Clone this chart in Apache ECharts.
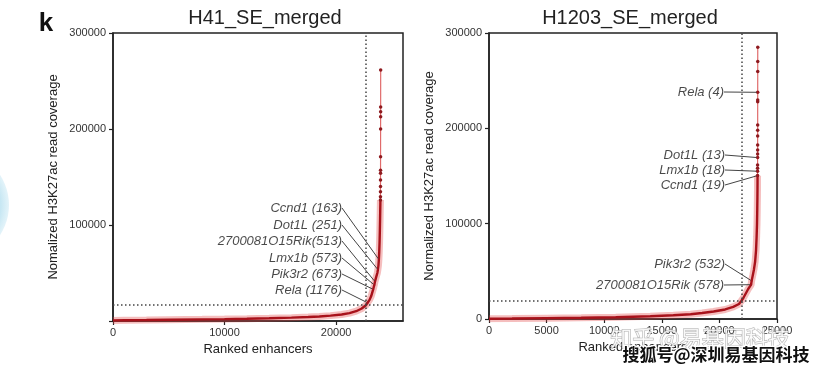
<!DOCTYPE html>
<html>
<head>
<meta charset="utf-8">
<script src="https://cdn.jsdelivr.net/npm/echarts@6/dist/echarts.min.js"></script>
<style>
html,body{margin:0;padding:0;background:#fff;}
#c{width:822px;height:374px;}
</style>
</head>
<body>
<div id="c"></div>
<script>
// ---------- DATA ----------
const panelTitles = ['H41_SE_merged', 'H1203_SE_merged'];
const yAxisNames = ['Nomalized H3K27ac read coverage', 'Normalized H3K27ac read coverage'];
const xAxisName = 'Ranked enhancers';

const leftXTicks = [0, 10000, 20000];
const leftYTicks = [100000, 200000, 300000];
const rightXTicks = [0, 5000, 10000, 15000, 20000, 25000];
const rightYTicks = [0, 100000, 200000, 300000];

// H41: dense part of ranked curve [rank, coverage]
const leftDense = [
  [0,600],[1000,800],[3000,1000],[5000,1300],[8000,1700],[10000,2000],[12000,2400],
  [14000,2900],[16000,3500],[17500,4100],[18500,4700],[19500,5600],[20500,6800],
  [21200,8200],[21800,10200],[22300,13000],[22700,16700],[22824,19000],[23000,22000],
  [23150,26000],[23327,33000],[23427,37500],[23487,41000],[23600,46000],[23700,50000],
  [23749,53500],[23800,58000],[23837,64000],[23870,72000],[23900,82000],[23925,94000],
  [23945,106000],[23960,116000],[23970,122000],[23976,126000]
];
// H41: sparse top enhancers
const leftTop = [
  [23976,126000],[23978,129500],[23980,134700],[23982,140000],[23984,146900],[23986,153800],
  [23987,157000],[23989,171000],[23992,200000],[23994,212800],[23995,218000],
  [23996,223000],[23999,261500]
];
const leftCutoffRank = 22700;
const leftCutoffValue = 16700;
const leftGenes = ['Ccnd1', 'Dot1L', '2700081O15Rik', 'Lmx1b', 'Pik3r2', 'Rela'];
const leftGeneRankLabels = [163, 251, 513, 573, 673, 1176];
const leftGenePoints = [[23837,64000],[23749,53500],[23487,41000],[23427,37500],[23327,33000],[22824,19000]];

// H1203: dense part
const rightDense = [
  [0,300],[2000,500],[5000,900],[8000,1300],[11000,1900],[14000,2900],[16000,3900],
  [17500,5000],[18500,6300],[19500,7900],[20500,10000],[21200,12700],[21700,15700],
  [21900,18900],[22100,22500],[22300,27000],[22500,31500],[22752,36000],[22798,40000],
  [22900,46000],[23000,52000],[23100,60000],[23180,72000],[23230,86000],[23265,100000],
  [23285,114000],[23298,126000],[23306,136000],[23310,144000],[23311,150400]
];
const rightTop = [
  [23311,150400],[23312,155000],[23313,158000],[23315,161500],[23317,169300],[23318,173000],
  [23319,177300],[23320,182500],[23321,192000],[23322,198000],[23323,203500],[23324,228000],
  [23325,229700],[23326,237800],[23327,259500],[23328,270000],[23330,285000]
];
const rightCutoffRank = 21900;
const rightCutoffValue = 18900;
const rightGenes = ['Rela', 'Dot1L', 'Lmx1b', 'Ccnd1', 'Pik3r2', '2700081O15Rik'];
const rightGeneRankLabels = [4, 13, 18, 19, 532, 578];
const rightGenePoints = [[23326,237800],[23317,169300],[23312,155000],[23311,150400],[22798,40000],[22752,36000]];

// ---------- LAYOUT / STYLE ----------
const FONT = '"Liberation Sans", Arial, sans-serif';
const AX = '#222';
const leftLabelXY = [[342,208],[342,225],[342,241],[342,258],[342,274],[342,290]];
const rightLabelXY = [[724,92],[725,155],[725,170],[725,185],[725,264],[724,285]];
const leftLabelSep = [' ', ' ', '', ' ', ' ', ' '];

const chart = echarts.init(document.getElementById('c'), null, {renderer: 'canvas'});

const plainNum = (v) => String(v);

function axisX(gridIndex, max, ticks) {
  return {
    type: 'value', gridIndex, min: 0, max,
    name: xAxisName, nameLocation: 'middle', nameGap: 22,
    nameTextStyle: {fontFamily: FONT, fontSize: 13, color: '#222'},
    axisLine: {show: true, lineStyle: {color: AX, width: 1.5}},
    axisTick: {show: true, length: 4, lineStyle: {color: AX, width: 1.2}, customValues: ticks},
    axisLabel: {fontFamily: FONT, fontSize: 11, color: '#333', margin: 6, customValues: ticks, formatter: plainNum},
    splitLine: {show: false}
  };
}
function axisY(gridIndex, name, ticks, gap) {
  return {
    type: 'value', gridIndex, min: 0, max: 300000,
    name, nameLocation: 'middle', nameGap: gap,
    nameTextStyle: {fontFamily: FONT, fontSize: 13, color: '#222'},
    axisLine: {show: true, lineStyle: {color: AX, width: 1.5}},
    axisTick: {show: true, length: 4, lineStyle: {color: AX, width: 1.2}, customValues: [0,100000,200000,300000]},
    axisLabel: {fontFamily: FONT, fontSize: 11, color: '#333', margin: 7, customValues: ticks, formatter: plainNum},
    splitLine: {show: false}
  };
}

function curveSeries(idx, dense, top, cutR, cutV) {
  return [
    { // halo
      type: 'line', xAxisIndex: idx, yAxisIndex: idx, data: dense, showSymbol: false,
      lineStyle: {color: 'rgba(225,70,70,0.35)', width: 7}, silent: true, z: 2
    },
    {
      type: 'line', xAxisIndex: idx, yAxisIndex: idx, data: dense, showSymbol: false,
      lineStyle: {color: '#a8121b', width: 2.4}, silent: true, z: 3,
      markLine: {
        silent: true, symbol: 'none', animation: false,
        label: {show: false},
        lineStyle: {color: '#444', width: 1.5, type: [1.5, 2.5]},
        data: [{xAxis: cutR}, {yAxis: cutV}]
      }
    },
    {
      type: 'line', xAxisIndex: idx, yAxisIndex: idx, data: top,
      symbol: 'circle', symbolSize: 3.5, showSymbol: true,
      itemStyle: {color: '#8e1a1f'},
      lineStyle: {color: '#e06a6a', width: 1.2}, silent: true, z: 3
    }
  ];
}

function labelSeries(idx, points, genes, ranks, xy, seps) {
  return {
    type: 'scatter', xAxisIndex: idx, yAxisIndex: idx,
    data: points.map((p, i) => ({value: p, gene: genes[i], rk: ranks[i], sep: seps ? seps[i] : ' '})),
    symbol: 'circle', symbolSize: 2, itemStyle: {color: '#a8121b'}, z: 5, silent: true,
    label: {
      show: true, position: 'left',
      formatter: (p) => p.data.gene + p.data.sep + '(' + p.data.rk + ')',
      fontFamily: FONT, fontSize: 13, fontStyle: 'italic', color: '#1a1a1a'
    },
    labelLayout: (params) => ({
      x: xy[params.dataIndex][0], y: xy[params.dataIndex][1],
      align: 'right', verticalAlign: 'middle'
    }),
    labelLine: {show: true, length2: 0, smooth: false, lineStyle: {color: '#444', width: 1}}
  };
}

const option = {
  animation: false,
  backgroundColor: '#fff',
  title: [
    {text: panelTitles[0], left: 260, top: 3, textAlign: 'center',
     textStyle: {fontFamily: FONT, fontSize: 20, fontWeight: 'normal', color: '#222'}},
    {text: panelTitles[1], left: 625, top: 3, textAlign: 'center',
     textStyle: {fontFamily: FONT, fontSize: 20, fontWeight: 'normal', color: '#222'}}
  ],
  grid: [
    {left: 113, right: 419, top: 33, bottom: 53, show: true, borderColor: AX, borderWidth: 1.5, backgroundColor: 'transparent'},
    {left: 489, right: 45, top: 33, bottom: 55, show: true, borderColor: AX, borderWidth: 1.5, backgroundColor: 'transparent'}
  ],
  xAxis: [axisX(0, 26000, leftXTicks), axisX(1, 25000, rightXTicks)],
  yAxis: [axisY(0, yAxisNames[0], leftYTicks, 53), axisY(1, yAxisNames[1], rightYTicks, 53)],
  series: [
    ...curveSeries(0, leftDense, leftTop, leftCutoffRank, leftCutoffValue),
    ...curveSeries(1, rightDense, rightTop, rightCutoffRank, rightCutoffValue),
    labelSeries(0, leftGenePoints, leftGenes, leftGeneRankLabels, leftLabelXY, leftLabelSep),
    labelSeries(1, rightGenePoints, rightGenes, rightGeneRankLabels, rightLabelXY, null)
  ],
  graphic: [
    {type: 'circle', shape: {cx: -46, cy: 205, r: 55}, z: -1,
     style: {fill: {type: 'radial', x: 0.5, y: 0.5, r: 0.5,
       colorStops: [{offset: 0, color: 'rgba(215,238,246,0.5)'}, {offset: 0.85, color: 'rgba(185,225,240,0.8)'}, {offset: 1, color: 'rgba(200,232,244,0.5)'}]}}},
    {type: 'text', x: 46, y: 24, style: {text: 'k', font: 'bold 26px ' + FONT, fill: '#111', align: 'center', verticalAlign: 'middle'}},
    {type: 'text', x: 700, y: 338, z: 100,
     style: {text: '知乎 @易基因科技', font: '22px "Noto Sans CJK SC"', fill: 'rgba(255,255,255,0.8)',
             stroke: 'rgba(140,140,140,0.7)', lineWidth: 1, align: 'center', verticalAlign: 'middle'}},
    {type: 'text', x: 716, y: 355, z: 101,
     style: {text: '搜狐号@深圳易基因科技', font: 'bold 17px "Noto Sans CJK SC"', fill: '#111',
             stroke: '#fff', lineWidth: 2.5, align: 'center', verticalAlign: 'middle'}}
  ]
};
chart.setOption(option);
</script>
</body>
</html>
